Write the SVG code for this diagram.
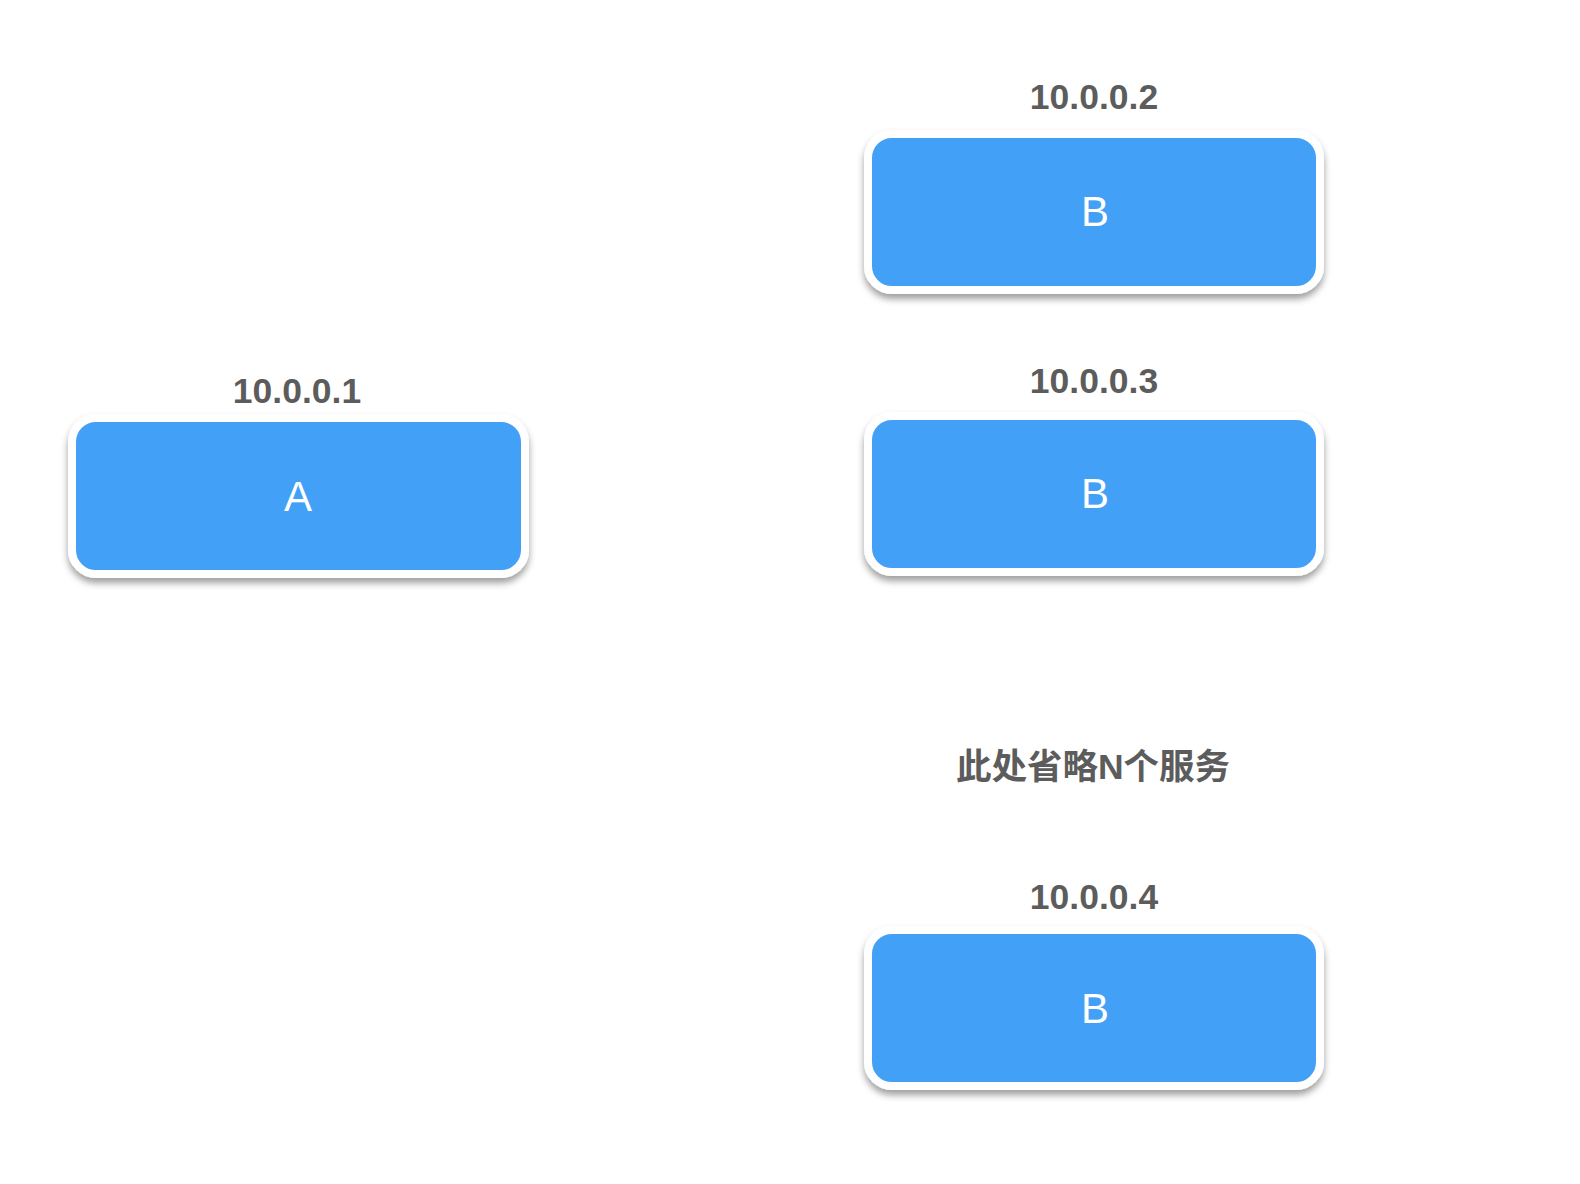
<svg xmlns="http://www.w3.org/2000/svg" width="1580" height="1184" viewBox="0 0 1580 1184">
<defs>
<filter id="sh" x="-10%" y="-20%" width="120%" height="150%">
<feDropShadow dx="0" dy="5" stdDeviation="3.5" flood-color="#000" flood-opacity="0.38"/>
</filter>
<style>
.box{fill:#43a0f6;stroke:#fff;stroke-width:8;filter:url(#sh)}
.ip{font-family:"Liberation Sans",Arial,sans-serif;font-weight:bold;font-size:35.5px;fill:#5c5c5c;text-anchor:middle}
.nm{font-family:"Liberation Sans",Arial,sans-serif;font-size:42px;fill:#fff;text-anchor:middle}
.note{font-family:"Liberation Sans","Noto Sans CJK SC",sans-serif;font-weight:bold;font-size:35.5px;fill:#5c5c5c;text-anchor:middle}
</style>
</defs>
<rect width="1580" height="1184" fill="#fff"/>
<g id="connectors"></g>
<g id="nodeA">
<text class="ip" x="297" y="403">10.0.0.1</text>
<rect class="box" x="72" y="418" width="453" height="156" rx="24"/>
<text class="nm" x="298" y="511">A</text>
</g>
<g id="nodeB1">
<text class="ip" x="1094" y="109">10.0.0.2</text>
<rect class="box" x="868" y="134" width="452" height="156" rx="24"/>
<text class="nm" x="1095" y="226">B</text>
</g>
<g id="nodeB2">
<text class="ip" x="1094" y="393">10.0.0.3</text>
<rect class="box" x="868" y="416" width="452" height="156" rx="24"/>
<text class="nm" x="1095" y="508">B</text>
</g>
<g id="note">
<text class="note" x="1093" y="779">此处省略N个服务</text>
</g>
<g id="nodeB3">
<text class="ip" x="1094" y="909">10.0.0.4</text>
<rect class="box" x="868" y="930" width="452" height="156" rx="24"/>
<text class="nm" x="1095" y="1023">B</text>
</g>
</svg>
